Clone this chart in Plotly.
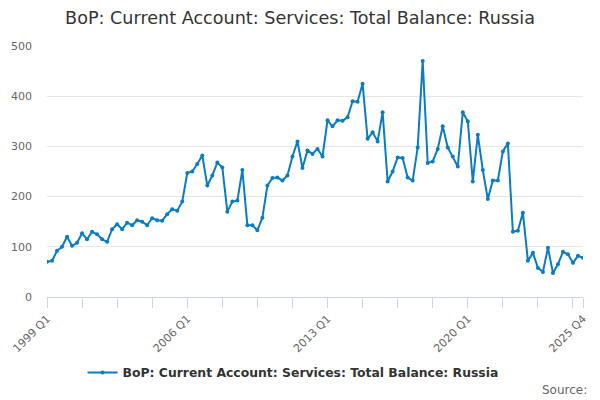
import plotly.graph_objects as go

# Quarterly values, 1999 Q1 .. 2025 Q4
years = list(range(1999, 2026))
quarters = [f"{y} Q{q}" for y in years for q in range(1, 5)]

values = [
    70, 72, 92, 100,      # 1999
    120, 102, 108, 127,   # 2000
    115, 130, 125, 115,   # 2001
    110, 135, 145, 135,   # 2002
    148, 143, 153, 150,   # 2003
    143, 157, 153, 152,   # 2004
    165, 175, 172, 190,   # 2005
    247, 250, 265, 282,   # 2006
    222, 242, 268, 258,   # 2007
    170, 190, 192, 253,   # 2008
    143, 143, 133, 158,   # 2009
    222, 237, 238, 232,   # 2010
    242, 280, 310, 257,   # 2011
    292, 285, 295, 280,   # 2012
    352, 340, 352, 351,   # 2013
    358, 390, 389, 425,   # 2014
    315, 328, 310, 368,   # 2015
    230, 250, 278, 277,   # 2016
    238, 232, 298, 470,   # 2017
    267, 270, 295, 340,   # 2018
    298, 280, 260, 368,   # 2019
    350, 230, 323, 253,   # 2020
    195, 232, 232, 290,   # 2021
    306, 130, 132, 168,   # 2022
    72, 88, 58, 50,       # 2023
    98, 48, 65, 90,       # 2024
    85, 68, 82, 78,       # 2025
]

series_name = "BoP: Current Account: Services: Total Balance: Russia"
line_color = "#0a7cc4"

idx = list(range(len(quarters)))
tick_idx = list(range(0, len(quarters), 7)) + [len(quarters) - 1]
label_idx = {0, 28, 56, 84, len(quarters) - 1}
tick_text = [quarters[i] if i in label_idx else "" for i in tick_idx]

fig = go.Figure()
fig.add_trace(go.Scatter(
    x=idx, y=values, mode="lines+markers", name=series_name,
    text=quarters, hovertemplate="%{text}: %{y}<extra></extra>",
    line=dict(color=line_color, width=2),
    marker=dict(color=line_color, size=4),
))

fig.update_layout(
    width=600, height=400,
    margin=dict(l=47, r=17, t=46, b=103),
    paper_bgcolor="white", plot_bgcolor="white",
    font=dict(family="DejaVu Sans", color="#666666", size=11),
    title=dict(text=series_name, x=0.5, xanchor="center", y=0.955, yanchor="middle",
               font=dict(size=17.6, color="#333333")),
    showlegend=True,
    legend=dict(orientation="h", x=0.459, xanchor="center",
                yref="container", y=1 - 373 / 400, yanchor="middle",
                font=dict(size=12.4, color="#333333", weight="bold")),
    annotations=[dict(text="Source:", xref="paper", yref="paper", x=1.012, y=-0.37,
                      xanchor="right", yanchor="middle", showarrow=False,
                      font=dict(size=12, color="#666666"))],
)

fig.update_xaxes(
    range=[0, len(quarters) - 1], tickmode="array", tickvals=tick_idx, ticktext=tick_text,
    tickangle=-45, ticks="outside", ticklen=10, tickcolor="#ccd6eb",
    showline=True, linecolor="#ccd6eb", showgrid=False, zeroline=False,
    automargin=False,
)
fig.update_yaxes(
    range=[0, 500], dtick=100, showgrid=True, gridcolor="#e6e6e6",
    zeroline=False, showline=False, ticks="", ticklabelstandoff=14,
    automargin=False,
)

fig.write_html("out.html", config={"displayModeBar": False},
               post_script="document.body.style.margin='0';")
